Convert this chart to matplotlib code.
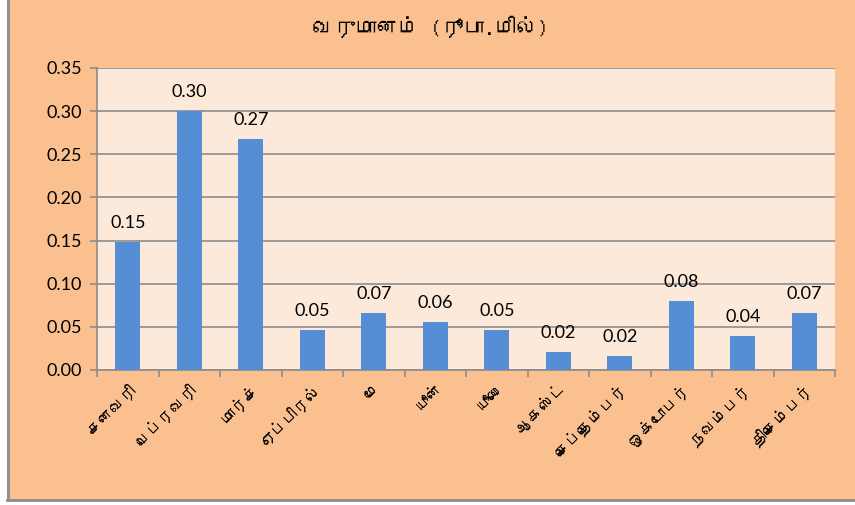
import matplotlib
matplotlib.use("Agg")
import matplotlib.pyplot as plt
from matplotlib import font_manager
from matplotlib.lines import Line2D

# ---- data ----
title = "வருமானம் (ரூபா.மில்)"
months = ["சனவரி", "பெப்ரவரி", "மார்ச்", "ஏப்பிரல்", "மே", "யூன்",
          "யூலை", "ஆகஸ்ட்", "செப்தெம்பர்", "ஒக்டோபர்", "நவம்பர்", "திசெம்பர்"]
values = [0.148, 0.300, 0.268, 0.046, 0.066, 0.0555,
          0.046, 0.021, 0.016, 0.080, 0.039, 0.066]
yticks = [0.00, 0.05, 0.10, 0.15, 0.20, 0.25, 0.30, 0.35]

# ---- find a font with Tamil glyphs ----
tamil_family = None
try:
    from fontTools.ttLib import TTFont
    for fe in font_manager.fontManager.ttflist:
        try:
            f = TTFont(fe.fname, fontNumber=0, lazy=True)
            cmap = f.getBestCmap()
            if cmap and 0x0BB5 in cmap and 0x0BAE in cmap:
                tamil_family = fe.name
                break
        except Exception:
            continue
except Exception:
    pass

num_family = ["Lato", "DejaVu Sans"]
tam_family = ([tamil_family] if tamil_family else []) + ["Lato", "DejaVu Sans"]

fig = plt.figure(figsize=(8.55, 5.05), dpi=100)
fig.patch.set_facecolor("white")
W, H = 855, 505

# chart area background (peach) with gray border on left and bottom
bg = plt.Rectangle((7 / W, 5 / H), 1, 1, transform=fig.transFigure,
                   facecolor="#FAC090", edgecolor="none", zorder=-10)
fig.patches.append(bg)
fig.lines.append(Line2D([7.5 / W, 7.5 / W], [5 / H, 1], transform=fig.transFigure,
                        color="#8C8C8C", lw=2))
fig.lines.append(Line2D([7 / W, 1], [5.5 / H, 5.5 / H], transform=fig.transFigure,
                        color="#8C8C8C", lw=2))

left, right, top, bottom = 97, 835, 68, 370
ax = fig.add_axes([left / W, 1 - bottom / H, (right - left) / W, (bottom - top) / H])
ax.set_facecolor("#FDE9D9")

x = list(range(len(months)))
bars = ax.bar(x, values, width=0.4, color="#558ED5", zorder=3)
ax.set_xlim(-0.5, len(months) - 0.5)
ax.set_ylim(0, 0.35)
ax.set_yticks(yticks)
ax.set_yticklabels([f"{v:.2f}" for v in yticks], fontsize=13, family=num_family)
ax.yaxis.grid(True, color="#8C8C8C", lw=1.2, zorder=1)
ax.set_axisbelow(True)

ax.set_xticks([i - 0.5 for i in x] + [len(months) - 0.5])
ax.set_xticklabels([])
ax.set_xticks(x, minor=True)
ax.set_xticklabels(months, minor=True, rotation=45, ha="right", va="top",
                   rotation_mode="anchor", fontsize=11.5, family=tam_family)
ax.tick_params(axis="x", which="minor", length=0, pad=8)
ax.tick_params(axis="x", which="major", length=5, color="#8C8C8C", width=1.2)
ax.tick_params(axis="y", length=5, color="#8C8C8C", width=1.2, pad=6)

for s in ["top", "right"]:
    ax.spines[s].set_visible(False)
for s in ["left", "bottom"]:
    ax.spines[s].set_color("#8C8C8C")
    ax.spines[s].set_linewidth(1.2)

for xi, v in zip(x, values):
    ax.annotate(f"{v:.2f}", (xi, v), xytext=(0, 8), textcoords="offset points",
                ha="center", va="bottom", fontsize=13, family=num_family)

fig.text(430 / W, 1 - 27 / H, title, ha="center", va="center",
         fontsize=15.5, fontweight="bold", family=tam_family)

fig.savefig("out.png", dpi=100, facecolor=fig.get_facecolor())
